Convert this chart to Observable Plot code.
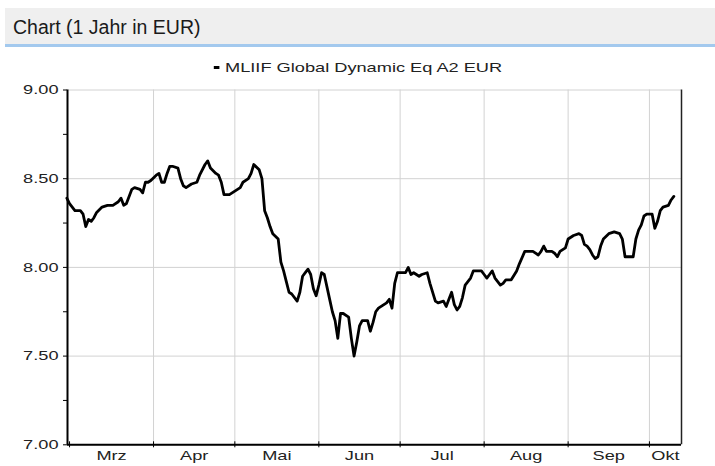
<!DOCTYPE html>
<html><head><meta charset="utf-8">
<script src="https://cdn.jsdelivr.net/npm/d3@7"></script>
<script src="https://cdn.jsdelivr.net/npm/@observablehq/plot@0.6"></script>
<style>
html,body{margin:0;padding:0;background:#fff;width:715px;height:466px;overflow:hidden;font-family:"Liberation Sans",Arial,sans-serif;}
#title{position:absolute;left:5px;top:8px;width:710px;height:36px;background:#efefef;border-bottom:3px solid #a3c9ee;}
#title span{position:absolute;left:8px;top:0;font-size:19.5px;line-height:38px;color:#1a1a1a;}
#legend{position:absolute;top:60px;left:0;width:715px;text-align:center;font-size:13px;line-height:16px;color:#222;}
#legend .inner{display:inline-block;transform:scaleX(1.4);transform-origin:center;}
#legend .swatch{display:inline-block;width:4px;height:3px;background:#000;vertical-align:middle;margin-right:4px;position:relative;top:-1px;}
#chart{position:absolute;left:0;top:78px;}
</style></head>
<body>
<div id="title"><span>Chart (1 Jahr in EUR)</span></div>
<div id="legend"><span class="inner"><span class="swatch"></span>MLIIF Global Dynamic Eq A2 EUR</span></div>
<div id="chart"></div>
<script>
const seriesName = "MLIIF Global Dynamic Eq A2 EUR";
const dates = [
"2012-02-29","2012-03-01","2012-03-02","2012-03-03","2012-03-05","2012-03-06","2012-03-07","2012-03-08","2012-03-09","2012-03-10",
"2012-03-11","2012-03-13","2012-03-15","2012-03-17","2012-03-19","2012-03-20","2012-03-21","2012-03-22","2012-03-24","2012-03-25",
"2012-03-27","2012-03-28","2012-03-29","2012-03-30","2012-03-31","2012-04-02","2012-04-03","2012-04-04","2012-04-05","2012-04-06",
"2012-04-07","2012-04-08","2012-04-10","2012-04-11","2012-04-12","2012-04-13","2012-04-15","2012-04-17","2012-04-18","2012-04-20",
"2012-04-21","2012-04-22","2012-04-24","2012-04-25","2012-04-26","2012-04-27","2012-04-29","2012-05-01","2012-05-03","2012-05-04",
"2012-05-06","2012-05-07","2012-05-08","2012-05-10","2012-05-11","2012-05-12","2012-05-13","2012-05-14","2012-05-15","2012-05-17",
"2012-05-18","2012-05-19","2012-05-20","2012-05-21","2012-05-22","2012-05-24","2012-05-25","2012-05-26","2012-05-27","2012-05-28",
"2012-05-29","2012-05-30","2012-05-31","2012-06-01","2012-06-02","2012-06-03","2012-06-04","2012-06-05","2012-06-06","2012-06-07",
"2012-06-08","2012-06-09","2012-06-10","2012-06-12","2012-06-13","2012-06-14","2012-06-15","2012-06-16","2012-06-17","2012-06-19",
"2012-06-20","2012-06-21","2012-06-22","2012-06-23","2012-06-24","2012-06-26","2012-06-27","2012-06-28","2012-06-29","2012-06-30",
"2012-07-02","2012-07-03","2012-07-04","2012-07-05","2012-07-06","2012-07-08","2012-07-09","2012-07-11","2012-07-12","2012-07-14",
"2012-07-15","2012-07-17","2012-07-18","2012-07-19","2012-07-20","2012-07-21","2012-07-22","2012-07-23","2012-07-24","2012-07-25",
"2012-07-27","2012-07-28","2012-07-31","2012-08-01","2012-08-02","2012-08-03","2012-08-04","2012-08-05","2012-08-07","2012-08-08",
"2012-08-09","2012-08-11","2012-08-13","2012-08-14","2012-08-16","2012-08-18","2012-08-19","2012-08-21","2012-08-22","2012-08-23",
"2012-08-24","2012-08-26","2012-08-27","2012-08-28","2012-08-29","2012-08-30","2012-08-31","2012-09-01","2012-09-03","2012-09-05",
"2012-09-06","2012-09-07","2012-09-08","2012-09-09","2012-09-10","2012-09-11","2012-09-12","2012-09-13","2012-09-14","2012-09-16",
"2012-09-18","2012-09-20","2012-09-21","2012-09-22","2012-09-24","2012-09-25","2012-09-26","2012-09-27","2012-09-28","2012-09-29",
"2012-09-30","2012-10-02","2012-10-03","2012-10-04","2012-10-05","2012-10-06","2012-10-08","2012-10-09","2012-10-10"
];
const values = [
8.39,8.36,8.34,8.32,8.32,8.30,8.23,8.27,8.26,8.28,
8.31,8.34,8.35,8.35,8.37,8.39,8.35,8.36,8.44,8.45,
8.44,8.42,8.48,8.48,8.49,8.52,8.53,8.48,8.48,8.53,
8.57,8.57,8.56,8.50,8.46,8.45,8.47,8.48,8.52,8.58,
8.60,8.56,8.53,8.52,8.48,8.41,8.41,8.43,8.45,8.48,
8.50,8.53,8.58,8.55,8.50,8.32,8.28,8.23,8.19,8.16,
8.03,7.98,7.92,7.86,7.85,7.81,7.86,7.95,7.97,7.99,
7.96,7.88,7.84,7.90,7.97,7.96,7.89,7.82,7.75,7.70,
7.60,7.74,7.74,7.72,7.60,7.50,7.58,7.67,7.70,7.70,
7.64,7.69,7.75,7.77,7.78,7.80,7.82,7.77,7.91,7.97,
7.97,7.97,8.00,7.96,7.97,7.95,7.96,7.97,7.91,7.81,
7.80,7.81,7.78,7.82,7.86,7.79,7.76,7.78,7.83,7.90,
7.94,7.98,7.98,7.96,7.94,7.96,7.98,7.94,7.90,7.91,
7.93,7.93,7.98,8.02,8.09,8.09,8.09,8.07,8.09,8.12,
8.09,8.09,8.08,8.06,8.09,8.10,8.11,8.16,8.18,8.19,
8.18,8.13,8.12,8.10,8.07,8.05,8.06,8.12,8.16,8.19,
8.20,8.19,8.16,8.06,8.06,8.06,8.16,8.21,8.24,8.29,
8.30,8.30,8.22,8.26,8.32,8.34,8.35,8.38,8.40
];
const monthLabels = ["Mrz","Apr","Mai","Jun","Jul","Aug","Sep","Okt"];
const yTicks = [7, 7.5, 8, 8.5, 9];
const yMinorTicks = [7.25, 7.75, 8.25, 8.75];

const data = dates.map((d, i) => ({date: new Date(d + "T00:00Z"), value: values[i]}));
const x0 = new Date("2012-02-29T06:00Z"), x1 = new Date("2012-10-12T20:00Z");
const monthStarts = d3.utcMonth.range(d3.utcMonth.ceil(x0), x1);
const labelData = monthStarts.map((m, i) => {
  const a = m < x0 ? x0 : m;
  const nx = d3.utcMonth.offset(m, 1);
  const b = nx > x1 ? x1 : nx;
  return {mid: new Date((+a + +b) / 2), label: monthLabels[i]};
});

const grid = "#d2d2d2";
const chart = Plot.plot({
  width: 715, height: 388,
  marginTop: 11.5, marginBottom: 21.7, marginLeft: 67, marginRight: 34,
  x: {type: "utc", domain: [x0, x1]},
  y: {domain: [7, 9]},
  style: {fontFamily: "'Liberation Sans', Arial, sans-serif", fontSize: "13px", color: "#222", background: "transparent", overflow: "visible"},
  marks: [
    Plot.gridY({ticks: yTicks, stroke: grid, strokeOpacity: 1}),
    Plot.gridX({ticks: monthStarts.slice(1), stroke: grid, strokeOpacity: 1}),
    Plot.axisY({ticks: yTicks, tickSize: 4, tickPadding: 5, tickFormat: d3.format(".2f"), label: null, stroke: "#000"}),
    Plot.axisY({ticks: yMinorTicks, tickSize: 4, tickFormat: () => "", label: null, stroke: "#000"}),
    Plot.axisX({ticks: monthStarts, tickSize: 6, dy: -3, tickFormat: () => "", label: null, stroke: "#000"}),
    Plot.text(labelData, {x: "mid", text: "label", frameAnchor: "bottom", lineAnchor: "top", dy: 6, fill: "#222"}),
    Plot.ruleX([x0], {stroke: "#000", strokeWidth: 2}),
    Plot.ruleX([x1], {stroke: "#222", strokeWidth: 1.5}),
    Plot.ruleY([7], {stroke: "#000", strokeWidth: 2}),
    Plot.line(data, {x: "date", y: "value", stroke: "#000", strokeWidth: 2.8, strokeLinejoin: "round", strokeLinecap: "round"})
  ]
});
chart.querySelectorAll("text").forEach(t => {
  if (!t.textContent) return;
  const x = +t.getAttribute("x") || 0, y = +t.getAttribute("y") || 0;
  const T = t.getAttribute("transform") || "";
  t.setAttribute("transform", `${T} translate(${x},${y}) scale(1.4,1) translate(${-x},${-y})`);
});
document.getElementById("chart").appendChild(chart);
</script>
</body></html>
